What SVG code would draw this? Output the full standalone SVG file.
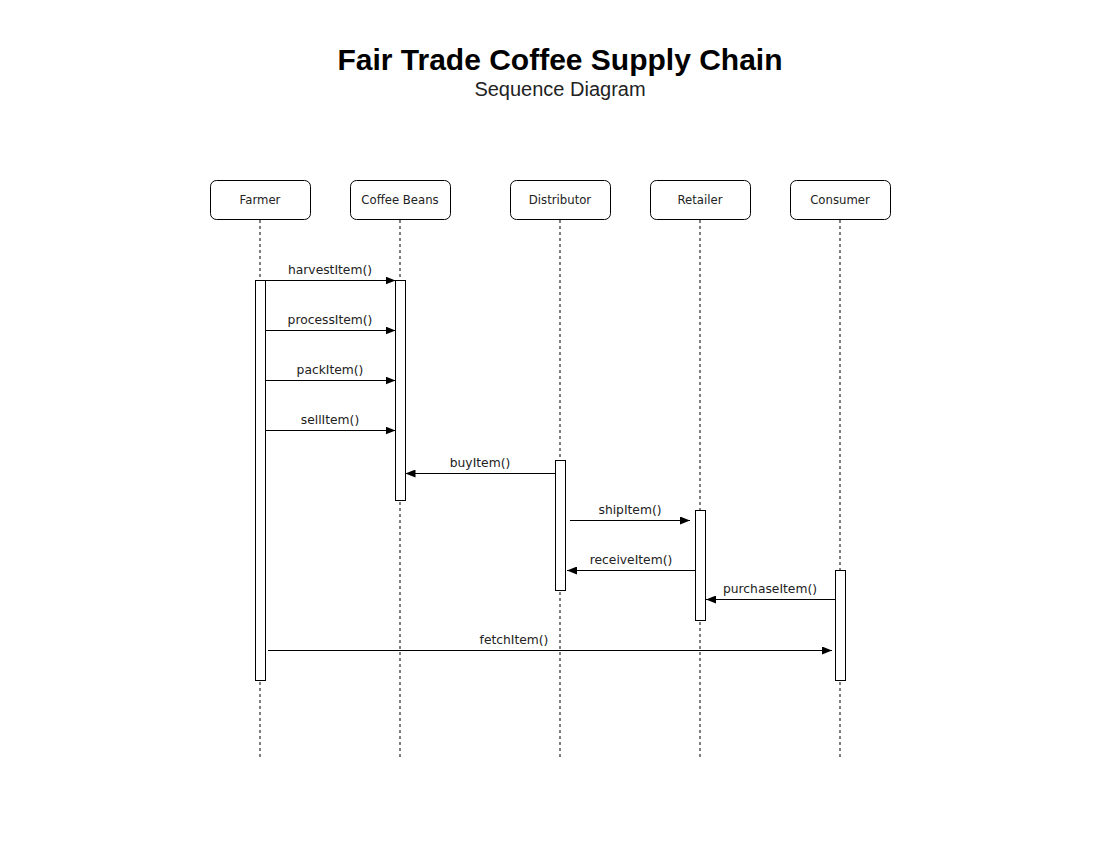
<svg xmlns="http://www.w3.org/2000/svg" width="1100" height="850" viewBox="0 0 1100 850">
<style>
.box{fill:#fff;stroke:#000;stroke-width:1}
.life{stroke:#000;stroke-width:1;stroke-dasharray:3,3;fill:none}
.act{fill:#fff;stroke:#000;stroke-width:1}
.msg{stroke:#000;stroke-width:1;fill:none;marker-end:url(#arr)}
.lbl{font-family:"DejaVu Sans",Verdana,sans-serif;font-size:12.3px;fill:#222;text-anchor:middle}
.pt{font-family:"DejaVu Sans",Verdana,sans-serif;font-size:11.7px;fill:#222;text-anchor:middle}
</style>
<defs>
<marker id="arr" viewBox="0 0 10 8" refX="10" refY="4" markerWidth="10" markerHeight="8" markerUnits="userSpaceOnUse" orient="auto">
<path d="M0,0 L10,4 L0,8 Z" fill="#000"/>
</marker>
</defs>
<rect width="1100" height="850" fill="#fff"/>
<g id="title">
<text x="560" y="70" font-family="Liberation Sans,Arial,sans-serif" font-size="30" font-weight="bold" text-anchor="middle" fill="#000">Fair Trade Coffee Supply Chain</text>
<text x="560" y="96" font-family="Liberation Sans,Arial,sans-serif" font-size="20" text-anchor="middle" fill="#222">Sequence Diagram</text>
</g>
<g id="lifelines">
<line class="life" x1="260" y1="220" x2="260" y2="757"/>
<line class="life" x1="400" y1="220" x2="400" y2="757"/>
<line class="life" x1="560" y1="220" x2="560" y2="757"/>
<line class="life" x1="700" y1="220" x2="700" y2="757"/>
<line class="life" x1="840" y1="220" x2="840" y2="757"/>
</g>
<g id="farmer"><rect class="box" x="210.5" y="180.5" width="100" height="39" rx="6"/><text class="pt" x="260" y="204">Farmer</text><rect class="act" x="255.5" y="280.5" width="10" height="400"/></g>
<g id="coffee-beans"><rect class="box" x="350.5" y="180.5" width="100" height="39" rx="6"/><text class="pt" x="400" y="204">Coffee Beans</text><rect class="act" x="395.5" y="280.5" width="10" height="220"/></g>
<g id="distributor"><rect class="box" x="510.5" y="180.5" width="100" height="39" rx="6"/><text class="pt" x="560" y="204">Distributor</text><rect class="act" x="555.5" y="460.5" width="10" height="130"/></g>
<g id="retailer"><rect class="box" x="650.5" y="180.5" width="100" height="39" rx="6"/><text class="pt" x="700" y="204">Retailer</text><rect class="act" x="695.5" y="510.5" width="10" height="110"/></g>
<g id="consumer"><rect class="box" x="790.5" y="180.5" width="100" height="39" rx="6"/><text class="pt" x="840" y="204">Consumer</text><rect class="act" x="835.5" y="570.5" width="10" height="110"/></g>
<g id="connectors">
<line class="msg" x1="265.5" y1="280.5" x2="395.5" y2="280.5"/>
<text class="lbl" x="330" y="274">harvestItem()</text>
<line class="msg" x1="265.5" y1="330.5" x2="395.5" y2="330.5"/>
<text class="lbl" x="330" y="324">processItem()</text>
<line class="msg" x1="265.5" y1="380.5" x2="395.5" y2="380.5"/>
<text class="lbl" x="330" y="374">packItem()</text>
<line class="msg" x1="265.5" y1="430.5" x2="395.5" y2="430.5"/>
<text class="lbl" x="330" y="424">sellItem()</text>
<line class="msg" x1="555.5" y1="473.5" x2="405.5" y2="473.5"/>
<text class="lbl" x="480" y="467">buyItem()</text>
<line class="msg" x1="570" y1="520.5" x2="690" y2="520.5"/>
<text class="lbl" x="630" y="514">shipItem()</text>
<line class="msg" x1="695.5" y1="570.5" x2="567" y2="570.5"/>
<text class="lbl" x="631" y="564">receiveItem()</text>
<line class="msg" x1="835.5" y1="599.5" x2="706" y2="599.5"/>
<text class="lbl" x="770" y="593">purchaseItem()</text>
<line class="msg" x1="268" y1="650.5" x2="832" y2="650.5"/>
<text class="lbl" x="514" y="644">fetchItem()</text>
</g>
</svg>
